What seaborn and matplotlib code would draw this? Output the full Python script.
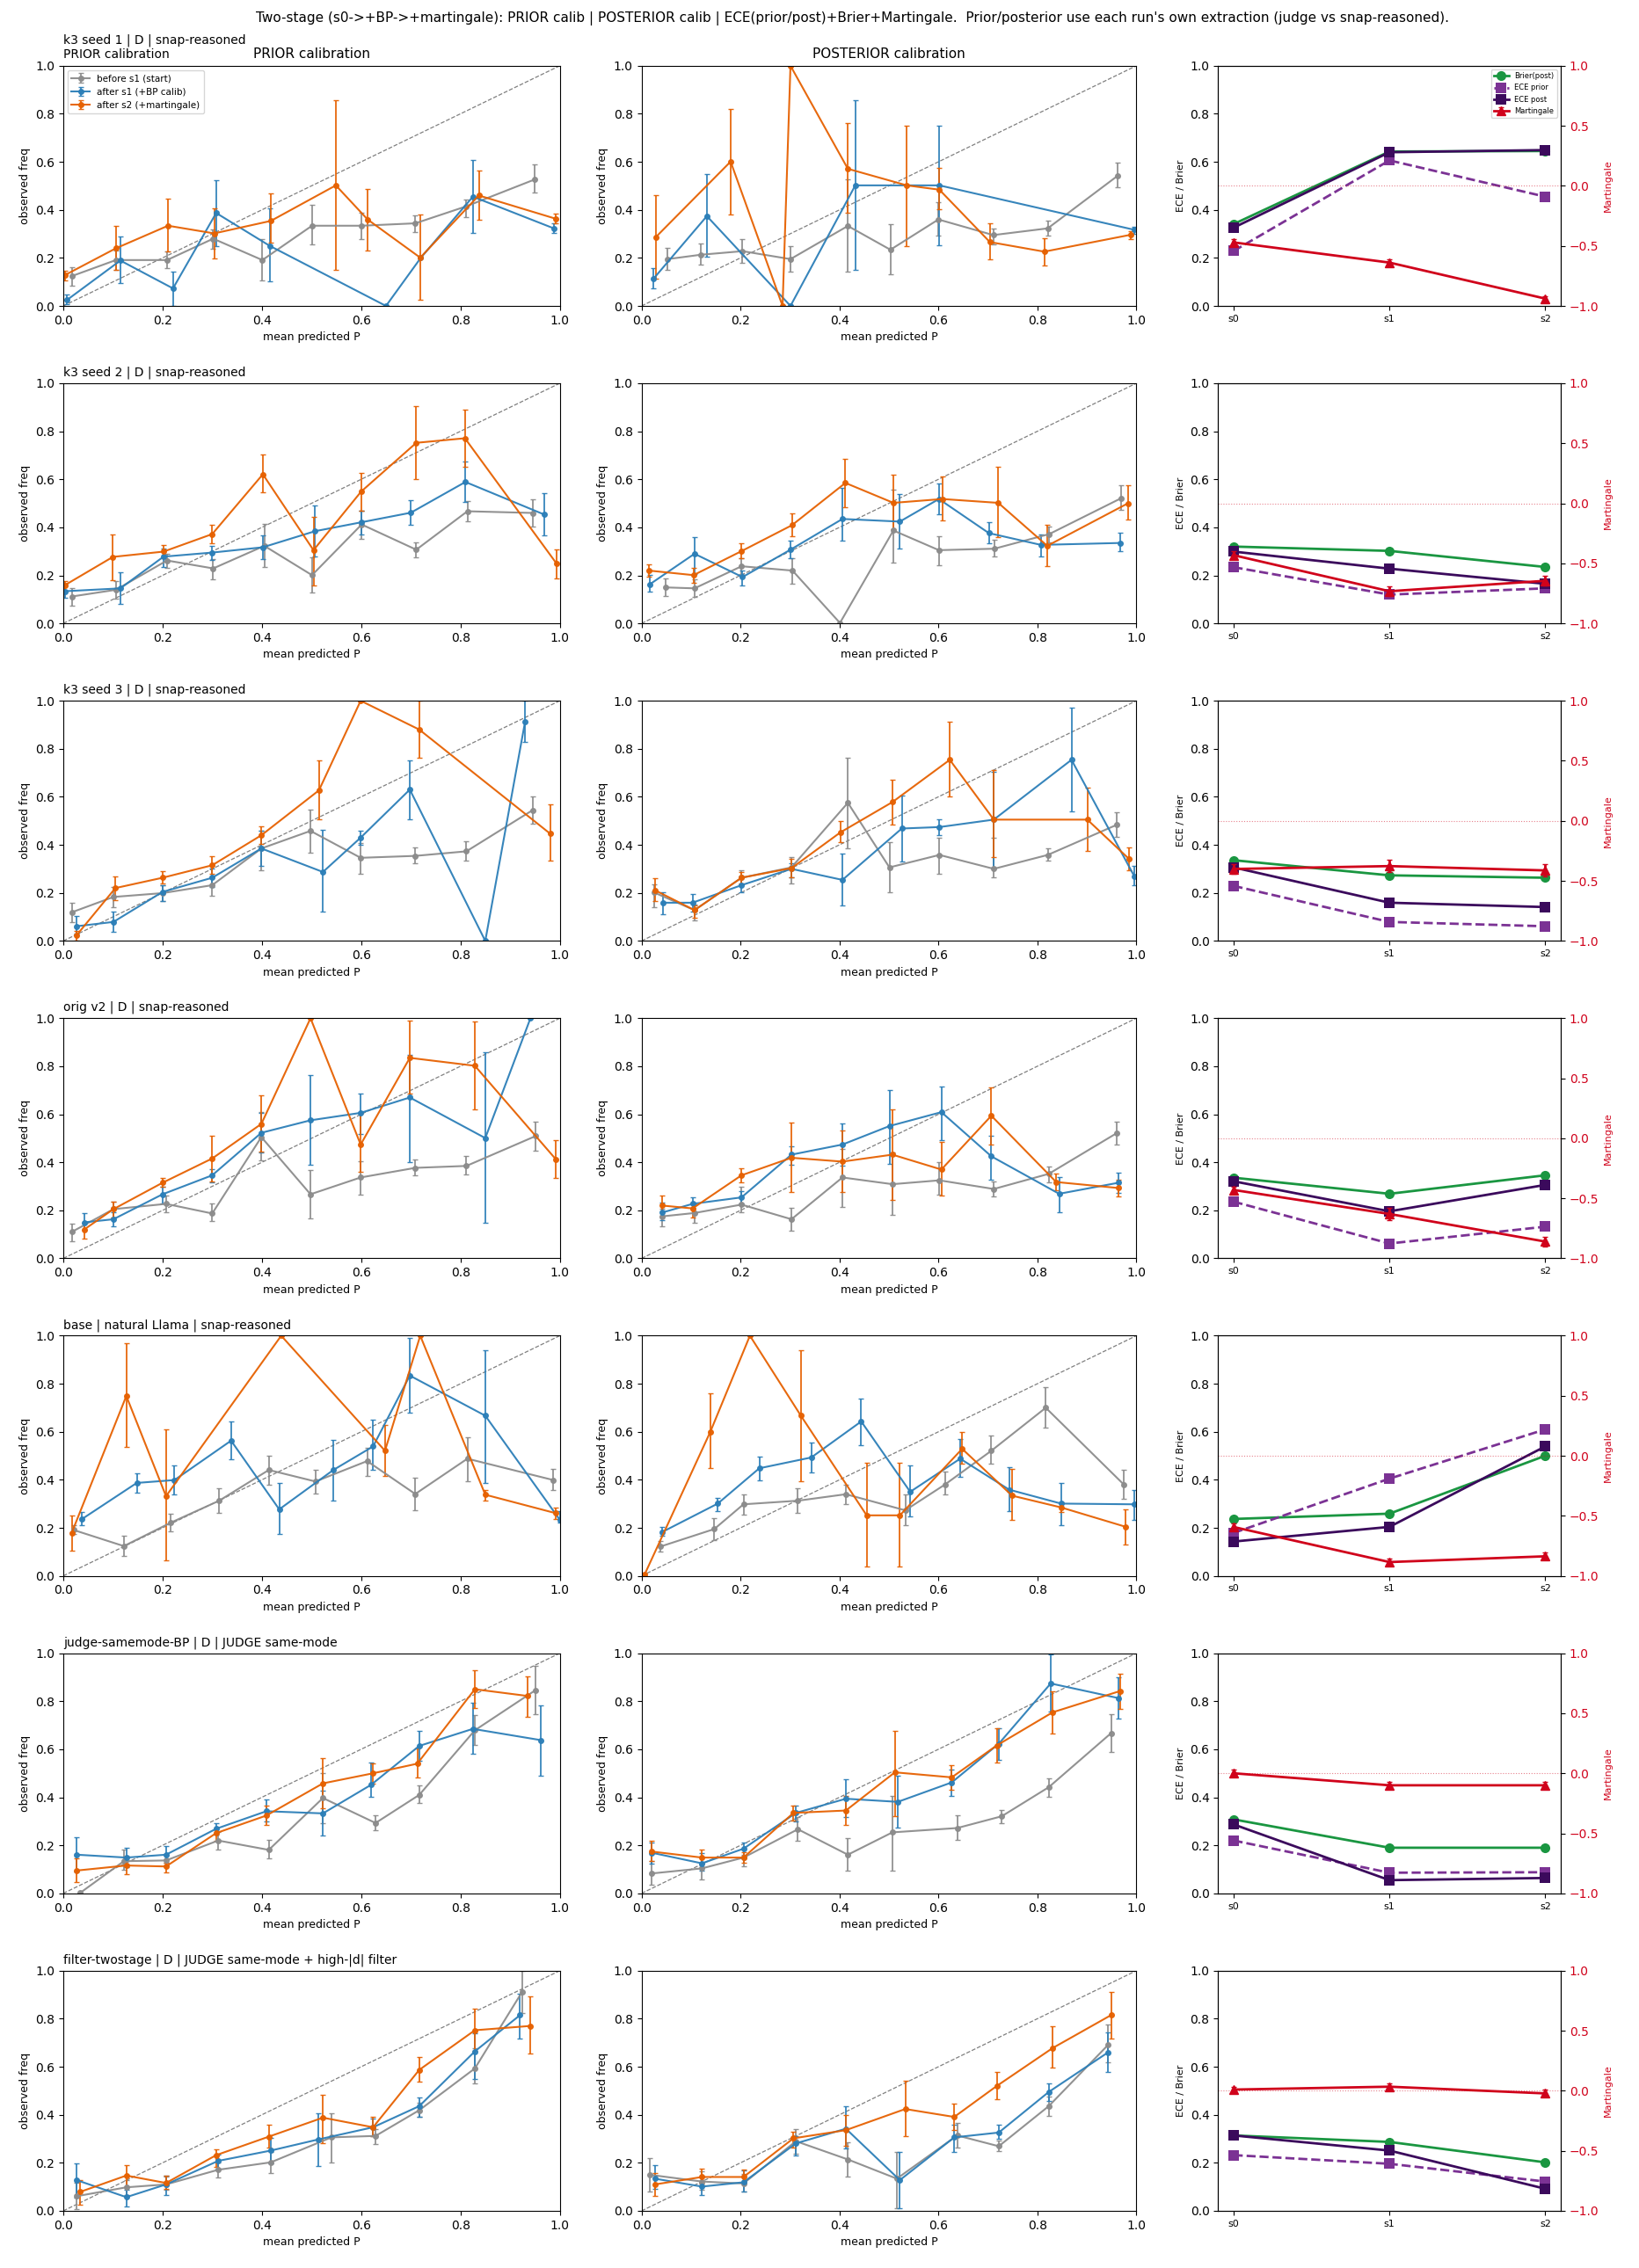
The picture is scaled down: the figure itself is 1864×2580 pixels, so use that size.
# two-stage calibration grid: prior / posterior / metrics for each run
import seaborn as sns
import pandas as pd
import matplotlib.pyplot as plt
import numpy as np

RUN_TITLES = ["k3 seed 1 | D | snap-reasoned",
              "k3 seed 2 | D | snap-reasoned",
              "k3 seed 3 | D | snap-reasoned",
              "orig v2 | D | snap-reasoned",
              "base | natural Llama | snap-reasoned",
              "judge-samemode-BP | D | JUDGE same-mode",
              "filter-twostage | D | JUDGE same-mode + high-|d| filter"]
STAGE_LABELS = ["before s1 (start)", "after s1 (+BP calib)", "after s2 (+martingale)"]
STAGE_COLORS = ["#8c8c8c", "#2c7fb8", "#e66101"]
STEPS = ["s0", "s1", "s2"]

# bin points: (mean predicted P, observed freq, err low, err high)
r1_prior_s0 = [(0.017, 0.124, 0.085, 0.161), (0.106, 0.191, 0.15, 0.23), (0.209, 0.191, 0.159, 0.228),
               (0.302, 0.280, 0.238, 0.317), (0.401, 0.191, 0.107, 0.277), (0.501, 0.334, 0.255, 0.42),
               (0.601, 0.334, 0.28, 0.389), (0.709, 0.344, 0.308, 0.376), (0.812, 0.415, 0.368, 0.444),
               (0.950, 0.527, 0.471, 0.588)]
r1_prior_s1 = [(0.007, 0.024, 0.006, 0.046), (0.115, 0.189, 0.094, 0.289), (0.221, 0.073, 0.0, 0.141),
               (0.308, 0.387, 0.25, 0.522), (0.416, 0.25, 0.101, 0.406), (0.65, 0.0, 0.0, 0.0),
               (0.72, 0.2, 0.2, 0.2), (0.825, 0.455, 0.305, 0.606), (0.988, 0.323, 0.305, 0.345)]
r1_prior_s2 = [(0.003, 0.128, 0.106, 0.146), (0.106, 0.24, 0.149, 0.332), (0.211, 0.334, 0.228, 0.445),
               (0.304, 0.302, 0.199, 0.405), (0.418, 0.354, 0.262, 0.47), (0.549, 0.502, 0.149, 0.855),
               (0.613, 0.36, 0.232, 0.488), (0.719, 0.201, 0.024, 0.382), (0.837, 0.46, 0.357, 0.563),
               (0.992, 0.363, 0.344, 0.383)]
r1_post_s0 = [(0.053, 0.195, 0.15, 0.24), (0.119, 0.213, 0.173, 0.26), (0.204, 0.228, 0.18, 0.277),
              (0.301, 0.195, 0.144, 0.248), (0.417, 0.333, 0.144, 0.528), (0.503, 0.234, 0.133, 0.339),
              (0.6, 0.36, 0.293, 0.431), (0.711, 0.295, 0.256, 0.323), (0.821, 0.323, 0.293, 0.354),
              (0.963, 0.543, 0.494, 0.596)]
r1_post_s1 = [(0.024, 0.113, 0.073, 0.156), (0.132, 0.374, 0.206, 0.548), (0.301, 0.0, 0.0, 0.0),
              (0.432, 0.502, 0.149, 0.855), (0.602, 0.502, 0.252, 0.75), (0.996, 0.317, 0.30, 0.33)]
r1_post_s2 = [(0.029, 0.287, 0.113, 0.461), (0.18, 0.601, 0.382, 0.82), (0.285, 0.0, 0.0, 0.0),
              (0.301, 1.0, 1.0, 1.0), (0.417, 0.571, 0.387, 0.76), (0.536, 0.502, 0.25, 0.75),
              (0.602, 0.484, 0.401, 0.573), (0.704, 0.266, 0.193, 0.343), (0.814, 0.226, 0.167, 0.281),
              (0.988, 0.296, 0.28, 0.313)]

r2_prior_s0 = [(0.017, 0.112, 0.073, 0.146), (0.106, 0.14, 0.104, 0.177), (0.209, 0.262, 0.232, 0.29),
               (0.302, 0.229, 0.185, 0.268), (0.405, 0.323, 0.235, 0.415), (0.501, 0.201, 0.128, 0.274),
               (0.601, 0.412, 0.351, 0.47), (0.711, 0.307, 0.274, 0.337), (0.814, 0.467, 0.424, 0.51),
               (0.945, 0.46, 0.405, 0.516)]
r2_prior_s1 = [(0.003, 0.134, 0.107, 0.165), (0.115, 0.146, 0.083, 0.213), (0.202, 0.278, 0.235, 0.313),
               (0.3, 0.295, 0.265, 0.322), (0.402, 0.317, 0.268, 0.366), (0.507, 0.384, 0.278, 0.49),
               (0.6, 0.421, 0.372, 0.47), (0.7, 0.461, 0.409, 0.512), (0.81, 0.589, 0.506, 0.673),
               (0.968, 0.454, 0.366, 0.541)]
r2_prior_s2 = [(0.003, 0.159, 0.137, 0.177), (0.1, 0.277, 0.18, 0.371), (0.202, 0.299, 0.271, 0.327),
               (0.3, 0.372, 0.332, 0.412), (0.402, 0.621, 0.545, 0.704), (0.504, 0.305, 0.159, 0.445),
               (0.6, 0.549, 0.47, 0.627), (0.711, 0.752, 0.6, 0.905), (0.809, 0.771, 0.651, 0.89),
               (0.994, 0.248, 0.187, 0.309)]
r2_post_s0 = [(0.048, 0.15, 0.113, 0.187), (0.107, 0.146, 0.11, 0.183), (0.202, 0.238, 0.204, 0.271),
              (0.305, 0.22, 0.165, 0.271), (0.401, 0.002, 0.0, 0.002), (0.509, 0.387, 0.252, 0.557),
              (0.601, 0.305, 0.244, 0.363), (0.713, 0.311, 0.278, 0.348), (0.824, 0.372, 0.339, 0.405),
              (0.97, 0.522, 0.473, 0.576)]
r2_post_s1 = [(0.016, 0.162, 0.132, 0.201), (0.107, 0.29, 0.207, 0.36), (0.204, 0.193, 0.159, 0.222),
              (0.301, 0.307, 0.271, 0.345), (0.406, 0.435, 0.344, 0.563), (0.522, 0.424, 0.311, 0.539),
              (0.601, 0.518, 0.455, 0.582), (0.702, 0.376, 0.333, 0.421), (0.807, 0.327, 0.278, 0.372),
              (0.968, 0.335, 0.299, 0.378)]
r2_post_s2 = [(0.015, 0.22, 0.193, 0.246), (0.105, 0.201, 0.168, 0.232), (0.202, 0.301, 0.271, 0.334),
              (0.304, 0.409, 0.362, 0.46), (0.412, 0.585, 0.484, 0.685), (0.509, 0.502, 0.393, 0.618),
              (0.608, 0.518, 0.43, 0.612), (0.721, 0.502, 0.361, 0.654), (0.82, 0.323, 0.24, 0.411),
              (0.983, 0.5, 0.433, 0.576)]

r3_prior_s0 = [(0.017, 0.119, 0.079, 0.159), (0.101, 0.183, 0.141, 0.226), (0.2, 0.199, 0.165, 0.232),
               (0.3, 0.232, 0.189, 0.263), (0.399, 0.385, 0.293, 0.458), (0.498, 0.458, 0.367, 0.546),
               (0.599, 0.346, 0.281, 0.407), (0.709, 0.354, 0.324, 0.388), (0.812, 0.373, 0.334, 0.416),
               (0.945, 0.544, 0.489, 0.603)]
r3_prior_s1 = [(0.027, 0.061, 0.031, 0.104), (0.101, 0.079, 0.037, 0.122), (0.2, 0.204, 0.165, 0.232),
               (0.3, 0.263, 0.226, 0.3), (0.399, 0.385, 0.312, 0.458), (0.523, 0.287, 0.122, 0.462),
               (0.599, 0.43, 0.4, 0.458), (0.698, 0.63, 0.507, 0.752), (0.85, 0.0, 0.0, 0.0),
               (0.93, 0.911, 0.828, 1.0)]
r3_prior_s2 = [(0.027, 0.024, 0.0, 0.043), (0.105, 0.22, 0.171, 0.269), (0.2, 0.263, 0.238, 0.29),
               (0.3, 0.315, 0.281, 0.352), (0.399, 0.44, 0.403, 0.477), (0.515, 0.627, 0.507, 0.752),
               (0.599, 1.0, 1.0, 1.0), (0.717, 0.88, 0.762, 1.0), (0.981, 0.446, 0.334, 0.568)]
r3_post_s0 = [(0.025, 0.202, 0.141, 0.236), (0.107, 0.128, 0.086, 0.153), (0.202, 0.263, 0.236, 0.293),
              (0.303, 0.306, 0.238, 0.348), (0.417, 0.575, 0.385, 0.762), (0.501, 0.306, 0.202, 0.41),
              (0.602, 0.358, 0.281, 0.428), (0.712, 0.3, 0.265, 0.428), (0.821, 0.358, 0.334, 0.385),
              (0.96, 0.483, 0.434, 0.535)]
r3_post_s1 = [(0.044, 0.159, 0.11, 0.202), (0.103, 0.159, 0.122, 0.196), (0.202, 0.232, 0.202, 0.263),
              (0.303, 0.3, 0.263, 0.324), (0.406, 0.254, 0.147, 0.363), (0.526, 0.468, 0.33, 0.605),
              (0.602, 0.474, 0.44, 0.507), (0.712, 0.505, 0.306, 0.703), (0.869, 0.754, 0.538, 0.972),
              (0.996, 0.269, 0.232, 0.312)]
r3_post_s2 = [(0.027, 0.211, 0.165, 0.26), (0.107, 0.128, 0.098, 0.147), (0.202, 0.263, 0.238, 0.287),
              (0.303, 0.303, 0.265, 0.342), (0.402, 0.452, 0.41, 0.499), (0.507, 0.578, 0.483, 0.672),
              (0.623, 0.754, 0.6, 0.911), (0.712, 0.505, 0.349, 0.713), (0.901, 0.505, 0.373, 0.639),
              (0.985, 0.342, 0.293, 0.388)]

r4_prior_s0 = [(0.017, 0.11, 0.071, 0.144), (0.101, 0.205, 0.169, 0.236), (0.207, 0.227, 0.193, 0.26),
               (0.3, 0.187, 0.154, 0.23), (0.399, 0.505, 0.407, 0.609), (0.498, 0.267, 0.166, 0.367),
               (0.599, 0.337, 0.267, 0.403), (0.709, 0.377, 0.346, 0.411), (0.812, 0.385, 0.35, 0.425),
               (0.951, 0.509, 0.45, 0.57)]
r4_prior_s1 = [(0.042, 0.15, 0.12, 0.187), (0.101, 0.163, 0.134, 0.193), (0.2, 0.267, 0.23, 0.297),
               (0.3, 0.346, 0.315, 0.37), (0.399, 0.523, 0.44, 0.606), (0.498, 0.575, 0.389, 0.762),
               (0.599, 0.606, 0.517, 0.686), (0.698, 0.67, 0.4, 0.847), (0.85, 0.501, 0.15, 0.857),
               (0.941, 1.0, 1.0, 1.0)]
r4_prior_s2 = [(0.042, 0.12, 0.083, 0.15), (0.101, 0.205, 0.169, 0.236), (0.2, 0.315, 0.297, 0.334),
               (0.3, 0.416, 0.322, 0.509), (0.399, 0.56, 0.444, 0.68), (0.498, 1.0, 1.0, 1.0),
               (0.599, 0.474, 0.362, 0.606), (0.698, 0.835, 0.685, 0.99), (0.829, 0.802, 0.621, 0.985),
               (0.992, 0.413, 0.334, 0.493)]
r4_post_s0 = [(0.042, 0.175, 0.132, 0.205), (0.107, 0.189, 0.15, 0.224), (0.202, 0.224, 0.193, 0.297),
              (0.303, 0.163, 0.117, 0.211), (0.406, 0.337, 0.215, 0.456), (0.507, 0.309, 0.183, 0.44),
              (0.602, 0.325, 0.264, 0.401), (0.712, 0.289, 0.257, 0.321), (0.823, 0.352, 0.315, 0.383),
              (0.96, 0.521, 0.474, 0.57)]
r4_post_s1 = [(0.042, 0.191, 0.159, 0.232), (0.103, 0.227, 0.211, 0.254), (0.202, 0.254, 0.227, 0.279),
              (0.303, 0.432, 0.391, 0.468), (0.406, 0.474, 0.386, 0.562), (0.501, 0.551, 0.395, 0.7),
              (0.606, 0.609, 0.493, 0.716), (0.707, 0.425, 0.328, 0.511), (0.844, 0.269, 0.193, 0.337),
              (0.964, 0.315, 0.273, 0.358)]
r4_post_s2 = [(0.042, 0.22, 0.175, 0.261), (0.103, 0.208, 0.169, 0.232), (0.202, 0.346, 0.315, 0.377),
              (0.303, 0.419, 0.276, 0.566), (0.406, 0.403, 0.276, 0.533), (0.507, 0.432, 0.244, 0.621),
              (0.606, 0.37, 0.26, 0.484), (0.707, 0.594, 0.474, 0.713), (0.838, 0.318, 0.285, 0.352),
              (0.964, 0.293, 0.257, 0.328)]

r5_prior_s0 = [(0.021, 0.191, 0.173, 0.21), (0.122, 0.124, 0.082, 0.167), (0.217, 0.222, 0.185, 0.259),
               (0.314, 0.313, 0.261, 0.366), (0.414, 0.441, 0.38, 0.502), (0.508, 0.393, 0.344, 0.441),
               (0.612, 0.478, 0.415, 0.533), (0.709, 0.341, 0.273, 0.407), (0.814, 0.488, 0.393, 0.576),
               (0.987, 0.399, 0.356, 0.444)]
r5_prior_s1 = [(0.038, 0.237, 0.21, 0.265), (0.148, 0.387, 0.346, 0.427), (0.224, 0.399, 0.341, 0.46),
               (0.338, 0.563, 0.484, 0.643), (0.435, 0.277, 0.173, 0.387), (0.544, 0.441, 0.313, 0.566),
               (0.624, 0.539, 0.441, 0.651), (0.698, 0.834, 0.678, 0.99), (0.85, 0.667, 0.387, 0.941),
               (1.0, 0.234, 0.222, 0.271)]
r5_prior_s2 = [(0.017, 0.179, 0.106, 0.252), (0.127, 0.749, 0.537, 0.968), (0.207, 0.332, 0.063, 0.61),
               (0.439, 1.0, 1.0, 1.0), (0.648, 0.521, 0.417, 0.627), (0.719, 1.0, 1.0, 1.0),
               (0.85, 0.338, 0.313, 0.356), (0.992, 0.261, 0.237, 0.283)]
r5_post_s0 = [(0.038, 0.122, 0.1, 0.144), (0.147, 0.195, 0.149, 0.24), (0.206, 0.298, 0.256, 0.338),
              (0.316, 0.313, 0.263, 0.366), (0.413, 0.34, 0.3, 0.381), (0.533, 0.273, 0.21, 0.341),
              (0.613, 0.38, 0.338, 0.435), (0.707, 0.521, 0.466, 0.585), (0.817, 0.7, 0.618, 0.785),
              (0.975, 0.38, 0.322, 0.441)]
r5_post_s1 = [(0.042, 0.183, 0.167, 0.204), (0.154, 0.301, 0.271, 0.326), (0.238, 0.448, 0.399, 0.496),
              (0.343, 0.493, 0.429, 0.556), (0.444, 0.643, 0.545, 0.737), (0.543, 0.35, 0.246, 0.46),
              (0.644, 0.488, 0.411, 0.57), (0.743, 0.359, 0.268, 0.451), (0.848, 0.301, 0.21, 0.387),
              (0.996, 0.298, 0.232, 0.359)]
r5_post_s2 = [(0.006, 0.005, 0.0, 0.005), (0.139, 0.6, 0.448, 0.759), (0.219, 1.0, 1.0, 1.0),
              (0.322, 0.667, 0.395, 0.941), (0.455, 0.252, 0.039, 0.472), (0.522, 0.252, 0.039, 0.472),
              (0.648, 0.529, 0.466, 0.6), (0.749, 0.334, 0.232, 0.444), (0.848, 0.285, 0.265, 0.305),
              (0.979, 0.204, 0.13, 0.277)]

r6_prior_s0 = [(0.034, 0.002, 0.0, 0.002), (0.122, 0.134, 0.098, 0.183), (0.207, 0.137, 0.115, 0.16),
               (0.312, 0.22, 0.183, 0.257), (0.414, 0.181, 0.144, 0.222), (0.523, 0.397, 0.293, 0.499),
               (0.629, 0.293, 0.263, 0.324), (0.717, 0.41, 0.377, 0.45), (0.829, 0.679, 0.617, 0.743),
               (0.951, 0.846, 0.745, 0.946)]
r6_prior_s1 = [(0.027, 0.161, 0.092, 0.235), (0.127, 0.149, 0.11, 0.19), (0.207, 0.161, 0.128, 0.196),
               (0.308, 0.269, 0.244, 0.291), (0.409, 0.342, 0.3, 0.391), (0.523, 0.333, 0.242, 0.428),
               (0.62, 0.452, 0.403, 0.544), (0.717, 0.614, 0.553, 0.675), (0.825, 0.685, 0.581, 0.795),
               (0.962, 0.638, 0.491, 0.782)]
r6_prior_s2 = [(0.027, 0.095, 0.046, 0.144), (0.127, 0.116, 0.079, 0.153), (0.207, 0.112, 0.088, 0.128),
               (0.308, 0.251, 0.218, 0.271), (0.409, 0.324, 0.284, 0.367), (0.523, 0.458, 0.355, 0.562),
               (0.624, 0.5, 0.458, 0.54), (0.713, 0.54, 0.483, 0.605), (0.829, 0.85, 0.772, 0.93),
               (0.935, 0.822, 0.736, 0.905)]
r6_post_s0 = [(0.021, 0.083, 0.037, 0.134), (0.122, 0.104, 0.059, 0.149), (0.206, 0.149, 0.112, 0.159),
              (0.316, 0.267, 0.218, 0.318), (0.417, 0.161, 0.095, 0.23), (0.507, 0.254, 0.095, 0.405),
              (0.638, 0.272, 0.222, 0.324), (0.728, 0.321, 0.294, 0.347), (0.823, 0.442, 0.402, 0.48),
              (0.949, 0.667, 0.589, 0.746)]
r6_post_s1 = [(0.021, 0.169, 0.125, 0.21), (0.122, 0.125, 0.095, 0.166), (0.206, 0.186, 0.152, 0.21),
              (0.312, 0.335, 0.3, 0.364), (0.413, 0.394, 0.318, 0.474), (0.518, 0.381, 0.275, 0.491),
              (0.627, 0.462, 0.404, 0.516), (0.722, 0.623, 0.557, 0.687), (0.827, 0.874, 0.756, 0.996),
              (0.964, 0.813, 0.727, 0.899)]
r6_post_s2 = [(0.021, 0.174, 0.134, 0.218), (0.122, 0.149, 0.122, 0.183), (0.206, 0.149, 0.128, 0.171),
              (0.307, 0.335, 0.303, 0.364), (0.413, 0.345, 0.284, 0.406), (0.512, 0.504, 0.323, 0.677),
              (0.627, 0.483, 0.433, 0.535), (0.718, 0.616, 0.546, 0.687), (0.831, 0.754, 0.667, 0.841),
              (0.968, 0.843, 0.768, 0.914)]

r7_prior_s0 = [(0.027, 0.061, 0.006, 0.116), (0.127, 0.098, 0.067, 0.128), (0.207, 0.11, 0.086, 0.141),
               (0.312, 0.171, 0.138, 0.202), (0.418, 0.202, 0.159, 0.244), (0.54, 0.306, 0.202, 0.407),
               (0.629, 0.312, 0.278, 0.342), (0.717, 0.419, 0.391, 0.452), (0.829, 0.593, 0.532, 0.678),
               (0.924, 0.911, 0.825, 1.0)]
r7_prior_s1 = [(0.027, 0.128, 0.055, 0.196), (0.127, 0.057, 0.018, 0.086), (0.207, 0.11, 0.067, 0.147),
               (0.312, 0.208, 0.177, 0.236), (0.418, 0.251, 0.199, 0.302), (0.513, 0.297, 0.187, 0.407),
               (0.624, 0.348, 0.312, 0.385), (0.717, 0.436, 0.391, 0.473), (0.829, 0.664, 0.55, 0.74),
               (0.92, 0.815, 0.718, 0.905)]
r7_prior_s2 = [(0.034, 0.079, 0.024, 0.128), (0.127, 0.147, 0.098, 0.189), (0.207, 0.116, 0.092, 0.147),
               (0.308, 0.232, 0.183, 0.257), (0.414, 0.309, 0.263, 0.358), (0.523, 0.388, 0.281, 0.483),
               (0.624, 0.348, 0.312, 0.391), (0.717, 0.587, 0.538, 0.639), (0.829, 0.752, 0.666, 0.843),
               (0.941, 0.77, 0.654, 0.892)]
r7_post_s0 = [(0.017, 0.15, 0.079, 0.22), (0.122, 0.122, 0.086, 0.165), (0.206, 0.114, 0.082, 0.153),
              (0.312, 0.29, 0.238, 0.339), (0.417, 0.214, 0.141, 0.285), (0.516, 0.134, 0.012, 0.245),
              (0.638, 0.314, 0.263, 0.367), (0.722, 0.269, 0.248, 0.293), (0.823, 0.436, 0.397, 0.477),
              (0.943, 0.691, 0.617, 0.776)]
r7_post_s1 = [(0.027, 0.134, 0.092, 0.189), (0.122, 0.101, 0.065, 0.141), (0.206, 0.119, 0.079, 0.167),
              (0.312, 0.281, 0.232, 0.312), (0.413, 0.342, 0.26, 0.436), (0.522, 0.128, 0.012, 0.245),
              (0.632, 0.306, 0.245, 0.358), (0.722, 0.326, 0.3, 0.358), (0.823, 0.495, 0.458, 0.532),
              (0.943, 0.66, 0.578, 0.742)]
r7_post_s2 = [(0.027, 0.11, 0.061, 0.159), (0.122, 0.141, 0.114, 0.176), (0.206, 0.141, 0.117, 0.171),
              (0.307, 0.302, 0.263, 0.33), (0.413, 0.336, 0.269, 0.4), (0.533, 0.424, 0.312, 0.542),
              (0.632, 0.391, 0.336, 0.446), (0.718, 0.52, 0.465, 0.578), (0.831, 0.678, 0.595, 0.767),
              (0.949, 0.815, 0.718, 0.913)]

# metrics per run at s0, s1, s2
BRIER_POST = [[0.341, 0.643, 0.645], [0.32, 0.302, 0.235], [0.336, 0.273, 0.263], [0.336, 0.269, 0.346],
              [0.237, 0.259, 0.5], [0.308, 0.19, 0.19], [0.314, 0.287, 0.202]]
ECE_PRIOR = [[0.229, 0.606, 0.455], [0.234, 0.12, 0.146], [0.229, 0.079, 0.061], [0.236, 0.062, 0.132],
             [0.179, 0.405, 0.61], [0.22, 0.086, 0.088], [0.232, 0.196, 0.122]]
ECE_POST = [[0.326, 0.64, 0.649], [0.299, 0.228, 0.165], [0.306, 0.159, 0.141], [0.321, 0.196, 0.306],
            [0.143, 0.204, 0.539], [0.287, 0.055, 0.064], [0.314, 0.251, 0.092]]
MARTINGALE = [[-0.471, -0.639, -0.939], [-0.432, -0.732, -0.645], [-0.401, -0.377, -0.413],
              [-0.43, -0.63, -0.86], [-0.593, -0.885, -0.837], [0.0, -0.1, -0.1], [0.01, 0.034, -0.022]]
MART_ERR = [[0.03, 0.03, 0.02], [0.03, 0.04, 0.04], [0.04, 0.05, 0.05], [0.03, 0.05, 0.04],
            [0.03, 0.03, 0.03], [0.03, 0.03, 0.03], [0.02, 0.03, 0.03]]

PRIOR = [[r1_prior_s0, r1_prior_s1, r1_prior_s2], [r2_prior_s0, r2_prior_s1, r2_prior_s2],
         [r3_prior_s0, r3_prior_s1, r3_prior_s2], [r4_prior_s0, r4_prior_s1, r4_prior_s2],
         [r5_prior_s0, r5_prior_s1, r5_prior_s2], [r6_prior_s0, r6_prior_s1, r6_prior_s2],
         [r7_prior_s0, r7_prior_s1, r7_prior_s2]]
POST = [[r1_post_s0, r1_post_s1, r1_post_s2], [r2_post_s0, r2_post_s1, r2_post_s2],
        [r3_post_s0, r3_post_s1, r3_post_s2], [r4_post_s0, r4_post_s1, r4_post_s2],
        [r5_post_s0, r5_post_s1, r5_post_s2], [r6_post_s0, r6_post_s1, r6_post_s2],
        [r7_post_s0, r7_post_s1, r7_post_s2]]

GREEN = "#1a9641"
PURPLE = "#7b3294"
DARK = "#3b0a5c"
RED = "#d0021b"


def calib(ax, series):
    ax.plot([0, 1], [0, 1], ls="--", color="gray", lw=0.9)
    for pts, lab, col in zip(series, STAGE_LABELS, STAGE_COLORS):
        d = pd.DataFrame(pts, columns=["p", "freq", "lo", "hi"])
        err = np.clip([d.freq - d.lo, d.hi - d.freq], 0, None)
        ax.errorbar(d.p, d.freq, yerr=err, fmt="-o", color=col, ms=4, lw=1.5,
                    capsize=2, elinewidth=1.3, label=lab, alpha=0.95)
    ax.set_xlim(0, 1)
    ax.set_ylim(0, 1)
    ax.set_xlabel("mean predicted P", fontsize=9)
    ax.set_ylabel("observed freq", fontsize=9)


def metrics(ax, i, show_legend):
    df = pd.DataFrame({"x": [0, 1, 2], "brier": BRIER_POST[i], "ece_prior": ECE_PRIOR[i],
                       "ece_post": ECE_POST[i]})
    sns.lineplot(data=df, x="x", y="brier", ax=ax, color=GREEN, marker="o", markersize=8,
                 markeredgewidth=0, lw=2, label="Brier(post)", legend=False)
    sns.lineplot(data=df, x="x", y="ece_prior", ax=ax, color=PURPLE, marker="s", markersize=8,
                 markeredgewidth=0, lw=2, linestyle="--", label="ECE prior", legend=False)
    sns.lineplot(data=df, x="x", y="ece_post", ax=ax, color=DARK, marker="s", markersize=8,
                 markeredgewidth=0, lw=2, label="ECE post", legend=False)
    ax.set_ylim(0, 1)
    ax.set_xlim(-0.1, 2.1)
    ax.set_xticks([0, 1, 2], STEPS)
    ax.tick_params(axis="x", labelsize=8)
    ax.set_xlabel("")
    ax.set_ylabel("ECE / Brier", fontsize=8)
    tw = ax.twinx()
    tw.axhline(0, color=RED, ls=":", lw=0.8, alpha=0.5)
    tw.errorbar([0, 1, 2], MARTINGALE[i], yerr=MART_ERR[i], fmt="-^", color=RED, ms=7,
                lw=2, capsize=2, label="Martingale")
    tw.set_ylim(-1, 1)
    tw.set_yticks([-1, -0.5, 0, 0.5, 1])
    tw.tick_params(axis="y", labelcolor=RED)
    tw.set_ylabel("Martingale", color=RED, fontsize=8)
    if show_legend:
        h1, l1 = ax.get_legend_handles_labels()
        h2, l2 = tw.get_legend_handles_labels()
        ax.legend(h1 + h2, l1 + l2, loc="upper right", fontsize=6)


fig = plt.figure(figsize=(18.64, 25.8), dpi=100)
gs = fig.add_gridspec(7, 3, width_ratios=[565, 563, 390], left=0.0386, right=0.9523,
                      top=0.971, bottom=0.0252, wspace=0.184, hspace=0.322)

for i in range(7):
    ax0 = fig.add_subplot(gs[i, 0])
    ax1 = fig.add_subplot(gs[i, 1])
    ax2 = fig.add_subplot(gs[i, 2])
    calib(ax0, PRIOR[i])
    calib(ax1, POST[i])
    metrics(ax2, i, i == 0)
    if i == 0:
        ax0.set_title(RUN_TITLES[i] + "\nPRIOR calibration", loc="left", fontsize=10)
        ax0.set_title("PRIOR calibration", fontsize=11)
        ax1.set_title("POSTERIOR calibration", fontsize=11)
        ax0.legend(loc="upper left", fontsize=7.5)
    else:
        ax0.set_title(RUN_TITLES[i], loc="left", fontsize=10)

fig.suptitle("Two-stage (s0->+BP->+martingale): PRIOR calib | POSTERIOR calib | "
             "ECE(prior/post)+Brier+Martingale.  Prior/posterior use each run's own "
             "extraction (judge vs snap-reasoned).", x=0.52, y=0.992, va="center", fontsize=11)
fig.savefig("out.png", dpi=100)
